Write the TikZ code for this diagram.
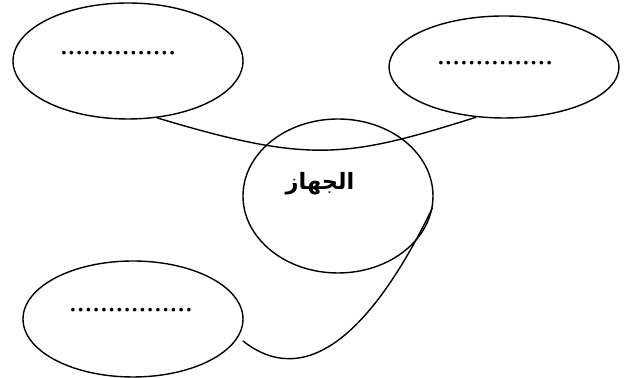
\documentclass[tikz,border=0pt]{standalone}
\usepackage{fontspec}
\setmainfont{Liberation Serif}
\newfontfamily\arabicfont[Script=Arabic]{DejaVu Sans}
\TeXXeTstate=1
\usepackage{tikz}
\usetikzlibrary{
	calc,
	positioning,
	shapes.geometric
}

\tikzset{
	bubble/.style={draw, ellipse, line width=1pt, inner sep=0pt},
	link/.style={line width=1pt},
	blank/.style={font=\fontsize{22}{24}\selectfont, inner sep=0pt}
}

\begin{document}
\begin{tikzpicture}
		\useasboundingbox (0,0) rectangle (15.75,9.45);
		% the three blank bubbles and the middle one
		\node[bubble, minimum width=5.75cm, minimum height=2.9cm,
			label={[blank, xshift=-0.25cm, yshift=5.5pt]center:...............}] (left) at (3.2,7.925) {};
		\node[bubble, minimum width=5.75cm, minimum height=2.55cm,
			label={[blank, xshift=-0.225cm, yshift=3pt]center:...............}] (right) at (12.6,7.775) {};
		\node[bubble, minimum width=5.5cm, minimum height=2.9cm,
			label={[blank, xshift=-0.05cm, yshift=6.5pt]center:................}] (low) at (3.325,1.475) {};
		\node[bubble, minimum width=4.75cm, minimum height=3.85cm,
			label={[xshift=-0.45cm, yshift=0.3cm, font=\fontsize{16}{19}\arabicfont\bfseries]center:\beginR الجهاز\endR}] (device) at (8.45,4.55) {};
		
		\draw[link] (left.-63) .. controls +(3.825,-1.15) and +(-3.25,-1.025) .. (right.-119);
		\draw[link] ([xshift=0.175cm]low.-12) .. controls +(1.55,-1.225) and +(-1.55,-3.2) .. (device.-7);
	\end{tikzpicture}
\end{document}
